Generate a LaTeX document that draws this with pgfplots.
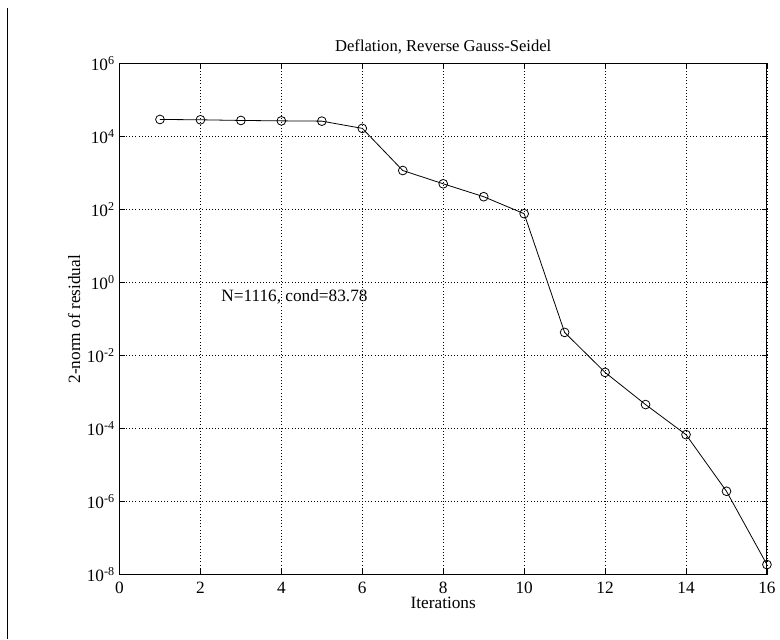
\documentclass[border=0pt]{standalone}
\usepackage{fontspec}
\setmainfont{Liberation Serif}
\usepackage{pgfplots}
\pgfplotsset{compat=1.18}
\begin{document}
\begin{tikzpicture}
\begin{axis}[
  scale only axis,
  width=487.5pt, height=384.75pt,
  ymode=log,
  xmin=0, xmax=16, ymin=1e-8, ymax=1e6,
  xtick={0,2,...,16},
  ytick={1e-8,1e-6,1e-4,1e-2,1e0,1e2,1e4,1e6},
  yticklabels={10\textsuperscript{-8},10\textsuperscript{-6},10\textsuperscript{-4},10\textsuperscript{-2},10\textsuperscript{0},10\textsuperscript{2},10\textsuperscript{4},10\textsuperscript{6}},
  /pgf/number format/assume math mode=true,
  xticklabel style={font=\fontsize{13}{15}\selectfont, yshift=-2pt},
  yticklabel style={font=\fontsize{13}{15}\selectfont},
  tick align=inside,
  tick pos=both,
  major tick length=4pt,
  minor tick length=2.5pt,
  grid=major,
  major grid style={black, dotted, line width=0.6pt},
  axis line style={black, line width=0.7pt},
  tick style={black, line width=0.5pt},
  title={Deflation, Reverse Gauss-Seidel},
  title style={font=\fontsize{12.5}{14}\selectfont, yshift=-2pt},
  xlabel={Iterations},
  ylabel={2-norm of residual},
  xlabel style={font=\fontsize{13}{15}\selectfont, yshift=4pt},
  ylabel style={font=\fontsize{13}{15}\selectfont, yshift=-2pt},
  clip=false,
]
\addplot[black, line width=0.6pt, mark=o, mark size=3.3pt, mark options={solid, line width=0.6pt}] coordinates {
  (1,2.98e4) (2,2.92e4) (3,2.80e4) (4,2.73e4) (5,2.68e4) (6,1.70e4)
  (7,1.19e3) (8,515) (9,228) (10,78)
  (11,0.0436) (12,3.5e-3) (13,4.6e-4) (14,6.9e-5) (15,1.94e-6) (16,1.9e-8)
};
\node[anchor=west, font=\fontsize{13}{15}\selectfont] at (axis cs:2.4,0.42) {N=1116, cond=83.78};
\draw[black, line width=0.8pt] (rel axis cs:-0.1723,1.109) -- (rel axis cs:-0.1723,-0.1248);
\useasboundingbox (rel axis cs:-0.1846,-0.1267) rectangle (rel axis cs:1.01538,1.1248);
\end{axis}
\end{tikzpicture}
\end{document}
